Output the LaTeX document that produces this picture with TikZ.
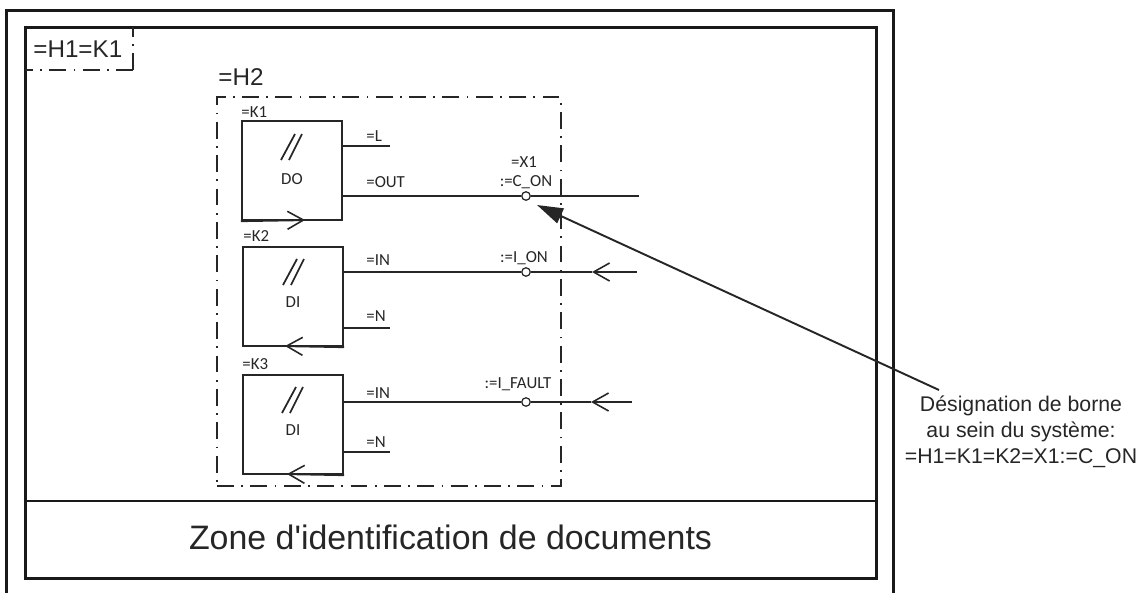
\documentclass[tikz,border=0pt]{standalone}
\usepackage{fontspec}
\setmainfont{Liberation Sans}
\newfontfamily\labelfont{Carlito}
\usetikzlibrary{arrows.meta,positioning}

\begin{document}
\begin{tikzpicture}[x=0.02cm,y=-0.02cm,
                    sysbox/.style={rectangle,draw=black!85,line width=1.2pt,minimum width=2cm,minimum height=1.98cm,inner sep=0},
                    dashdot/.style={draw=black!85,line width=1.1pt,dash pattern=on 9.6pt off 4.2pt on 1pt off 4.2pt},
                    terminal/.style={circle,draw=black!85,line width=0.7pt,fill=white,minimum size=0.17cm,inner sep=0},
                    wire/.style={draw=black!85,line width=1.2pt},
                    barb/.style={wire,-{Straight Barb[length=0.32cm,width=0.36cm,line width=0.9pt]}},
                    small/.style={font=\labelfont\fontsize{9.6}{11}\selectfont,inner sep=0,text=black!85},
                    big/.style={font=\fontsize{13.8}{16}\selectfont,inner sep=0,text=black!85},
                    note/.style={font=\fontsize{12.1}{14.7}\selectfont,inner sep=0,align=center,text=black!85}
                ]
    \useasboundingbox (0,0) rectangle (1140,593);
    % frames
    \draw[black!90,line width=1.7pt] (6.5,593) -- (6.5,10) -- (893,10) -- (893,593);
    \node[rectangle,draw=black!90,line width=1.7pt,minimum width=17.04cm,minimum height=11.04cm,inner sep=0] (zone) at (451,303) {};
    \draw[black!90,line width=1.5pt] (zone.west |- 0,501) -- (zone.east |- 0,501);
    \node[font=\fontsize{19.3}{23}\selectfont,inner sep=0,text=black!85] (docs) at (450.5,537) {Zone d\textquotesingle identification de documents};
    % system boxes
    \node[big,anchor=west] (H1) at (33,49) {=H1=K1};
    \draw[dashdot] (133,70) -- (133,27);
    \draw[dashdot] (133,70) -- (25,70);
    \node[big,anchor=west] (H2t) at (218,77) {=H2};
    \node[rectangle,dashdot,minimum width=6.88cm,minimum height=7.78cm,inner sep=0] (H2) at (389,291.5) {};
    \node[sysbox] (K1) at (292,170.5) {};
    \node[sysbox] (K2) at (293,296.5) {};
    \node[sysbox] (K3) at (293,424.5) {};
    \node[small,anchor=west] (K1t) at (241,112) {=K1};
    \node[small,anchor=west] (K2t) at (243,236) {=K2};
    \node[small,anchor=west] (K3t) at (242,364) {=K3};
    \node[small] (DO) at (292,179) {DO};
    \node[small] (DI1) at (293,302) {DI};
    \node[small] (DI2) at (293,430) {DI};
    \foreach \x/\y in {281/160,283/285,282/413}
        {
        \draw[black!85,line width=1pt] (\x,\y) -- (\x+14,\y-26);
        \draw[black!85,line width=1pt] (\x+8,\y) -- (\x+21,\y-26);
    }
    % open arrows on the box edges
    \coordinate (A1) at (305,220);
    \coordinate (A2) at (285,346);
    \coordinate (A3) at (287,474);
    \draw[barb] (K1.south west) -- (A1);
    \draw[barb] (K2.south east) -- (A2);
    \draw[barb] (K3.south east) -- (A3);
    % terminals
    \node[terminal] (T1) at (526,196) {};
    \node[terminal] (T2) at (526,272) {};
    \node[terminal] (T3) at (526,402) {};
    \coordinate (E1) at (639,196);
    \coordinate (E2) at (637,272);
    \coordinate (E3) at (632,402);
    \coordinate (B2) at (592,272);
    \coordinate (B3) at (591,402);
    \draw[wire] (K1.east |- T1) -- (T1);
    \draw[wire] (T1) -- (E1);
    \draw[wire] (K2.east |- T2) -- (T2);
    \draw[wire] (T2) -- (B2);
    \draw[barb] (E2) -- (B2);
    \draw[wire] (K3.east |- T3) -- (T3);
    \draw[wire] (T3) -- (B3);
    \draw[barb] (E3) -- (B3);
    % stubs
    \coordinate (L1) at (390,146);
    \coordinate (N2) at (390,328);
    \coordinate (N3) at (390,452);
    \draw[wire] (K1.east |- L1) -- (L1);
    \draw[wire] (K2.east |- N2) -- (N2);
    \draw[wire] (K3.east |- N3) -- (N3);
    % labels
    \node[small,anchor=west] (lL) at (366,136) {=L};
    \node[small,anchor=west] (lOUT) at (366,182) {=OUT};
    \node[small] (lX1) at (524,162) {=X1};
    \node[small] (lCON) at (526,182) {:=C\_ON};
    \node[small,anchor=west] (lIN2) at (366,260) {=IN};
    \node[small] (lION) at (524,258) {:=I\_ON};
    \node[small,anchor=west] (lN2) at (366,316) {=N};
    \node[small,anchor=west] (lIN3) at (366,393) {=IN};
    \node[small] (lIF) at (518,384) {:=I\_FAULT};
    \node[small,anchor=west] (lN3) at (366,442) {=N};
    % designation
    \node[note] (desig) at (1021,432) {Désignation de borne\\au sein du système:\\=H1=K1=K2=X1:=C\_ON};
    \coordinate (leadS) at (939,390);
    \coordinate (leadE) at (537,205);
    \draw[black!85,line width=1.1pt,-{Triangle[length=0.52cm,width=0.32cm]}] (leadS) -- (leadE);
\end{tikzpicture}
\end{document}
